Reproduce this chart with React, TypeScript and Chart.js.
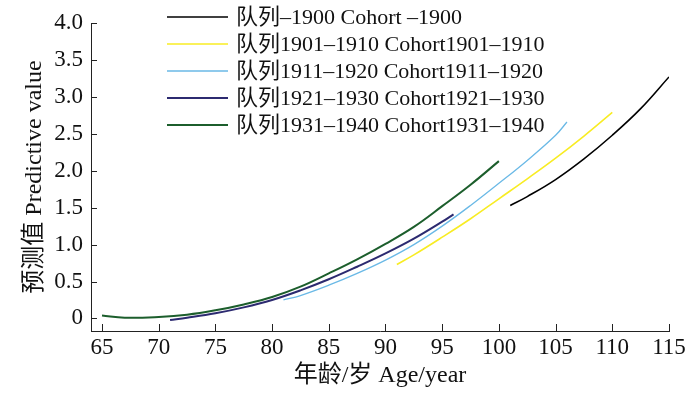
import React, { useEffect, useRef } from "react";
import { Chart, registerables } from "chart.js";

Chart.register(...registerables);

const seriesLabels = [
  "队列–1900 Cohort –1900",
  "队列1901–1910 Cohort1901–1910",
  "队列1911–1920 Cohort1911–1920",
  "队列1921–1930 Cohort1921–1930",
  "队列1931–1940 Cohort1931–1940",
];
const seriesColors = ["#000000", "#f8ec23", "#6ab9e6", "#2c2a70", "#1c5e2c"];
const seriesWidths = [1.6, 1.6, 1.3, 2, 2];

const ages1900 = [101, 102.5, 105, 107.5, 110, 112.5, 115];
const vals1900 = [1.53, 1.65, 1.88, 2.16, 2.48, 2.84, 3.27];

const ages1910 = [91, 92.5, 95, 97.5, 100, 102.5, 105, 107.5, 110];
const vals1910 = [0.73, 0.86, 1.1, 1.35, 1.62, 1.89, 2.17, 2.47, 2.79];

const ages1920 = [81, 82.5, 85, 87.5, 90, 92.5, 95, 97.5, 100, 102.5, 105, 106];
const vals1920 = [0.25, 0.31, 0.45, 0.61, 0.79, 1.0, 1.25, 1.53, 1.83, 2.14, 2.48, 2.66];

const ages1930 = [71, 72.5, 75, 77.5, 80, 82.5, 85, 87.5, 90, 92.5, 95, 96];
const vals1930 = [-0.02, 0.01, 0.07, 0.15, 0.25, 0.38, 0.53, 0.7, 0.88, 1.08, 1.31, 1.41];

const ages1940 = [65, 67, 70, 72.5, 75, 77.5, 80, 82.5, 85, 87.5, 90, 92.5, 95, 97.5, 100];
const vals1940 = [0.04, 0.01, 0.02, 0.05, 0.11, 0.19, 0.29, 0.43, 0.61, 0.8, 1.01, 1.24, 1.52, 1.81, 2.13];

const xTicks = [65, 70, 75, 80, 85, 90, 95, 100, 105, 110, 115];
const yTicks = [0, 0.5, 1.0, 1.5, 2.0, 2.5, 3.0, 3.5, 4.0];

const xTitle = "年龄/岁 Age/year";
const yTitle = "预测值 Predictive value";

const FONT = '"Liberation Serif", "Times New Roman", "Noto Sans CJK SC", serif';

const seriesAges = [ages1900, ages1910, ages1920, ages1930, ages1940];
const seriesVals = [vals1900, vals1910, vals1920, vals1930, vals1940];

const inwardTicks = {
  id: "inwardTicks",
  afterDraw(chart: any) {
    const { ctx, chartArea, scales } = chart;
    ctx.save();
    ctx.strokeStyle = "#222";
    ctx.lineWidth = 1;
    ctx.beginPath();
    for (const v of xTicks) {
      const px = Math.round(scales.x.getPixelForValue(v)) + 0.5;
      ctx.moveTo(px, chartArea.bottom);
      ctx.lineTo(px, chartArea.bottom - 7);
    }
    for (const v of yTicks) {
      const py = Math.round(scales.y.getPixelForValue(v)) + 0.5;
      ctx.moveTo(chartArea.left, py);
      ctx.lineTo(chartArea.left + 6, py);
    }
    ctx.stroke();
    ctx.restore();
  },
};

const customLegend = {
  id: "customLegend",
  afterDraw(chart: any) {
    const { ctx } = chart;
    ctx.save();
    chart.data.datasets.forEach((ds: any, i: number) => {
      const y = 17 + i * 27;
      ctx.strokeStyle = ds.borderColor;
      ctx.lineWidth = ds.borderWidth;
      ctx.beginPath();
      ctx.moveTo(167, y);
      ctx.lineTo(228, y);
      ctx.stroke();
      ctx.fillStyle = "#111";
      ctx.font = `22px ${FONT}`;
      ctx.textBaseline = "middle";
      ctx.textAlign = "left";
      ctx.fillText(ds.label, 236, y + 1);
    });
    ctx.restore();
  },
};

export default function App() {
  const ref = useRef<HTMLCanvasElement | null>(null);

  useEffect(() => {
    if (!ref.current) return;
    const datasets = seriesLabels.map((label, i) => ({
      label,
      data: seriesAges[i].map((a, j) => ({ x: a, y: seriesVals[i][j] })),
      borderColor: seriesColors[i],
      backgroundColor: seriesColors[i],
      borderWidth: seriesWidths[i],
      pointRadius: 0,
      fill: false,
      tension: 0.4,
    }));
    const chart = new Chart(ref.current, {
      type: "line",
      data: { datasets },
      plugins: [inwardTicks, customLegend],
      options: {
        animation: false,
        responsive: false,
        maintainAspectRatio: false,
        layout: { padding: { top: 23, right: 31, bottom: 0, left: 0 } },
        plugins: {
          legend: { display: false },
          tooltip: { enabled: false },
        },
        scales: {
          x: {
            type: "linear",
            min: 64.03,
            max: 115,
            afterFit: (s: any) => {
              s.height = 65;
            },
            afterBuildTicks: (s: any) => {
              s.ticks = xTicks.map((v) => ({ value: v }));
            },
            grid: { display: true, drawOnChartArea: false, drawTicks: false },
            border: { display: true, color: "#222", width: 1 },
            ticks: {
              padding: 3,
              color: "#111",
              font: { family: FONT, size: 23 },
              maxRotation: 0,
              callback: (v: any) => String(v),
            },
            title: {
              display: true,
              text: xTitle,
              color: "#111",
              font: { family: FONT, size: 24 },
              padding: { top: 0, bottom: 6 },
            },
          },
          y: {
            type: "linear",
            min: -0.17,
            max: 4,
            afterFit: (s: any) => {
              s.width = 91;
            },
            afterBuildTicks: (s: any) => {
              s.ticks = yTicks.map((v) => ({ value: v }));
            },
            grid: { display: true, drawOnChartArea: false, drawTicks: false },
            border: { display: true, color: "#222", width: 1 },
            ticks: {
              padding: 8,
              color: "#111",
              font: { family: FONT, size: 23 },
              callback: (v: any) => (v === 0 ? "0" : Number(v).toFixed(1)),
            },
            title: {
              display: true,
              text: yTitle,
              color: "#111",
              font: { family: FONT, size: 24 },
              padding: { top: 20, bottom: 0 },
            },
          },
        },
      },
    });
    return () => chart.destroy();
  }, []);

  return (
    <div style={{ position: "fixed", left: 0, top: 0, width: 700, height: 396, background: "#fff" }}>
      <canvas ref={ref} width={700} height={396} style={{ width: 700, height: 396 }} />
    </div>
  );
}
